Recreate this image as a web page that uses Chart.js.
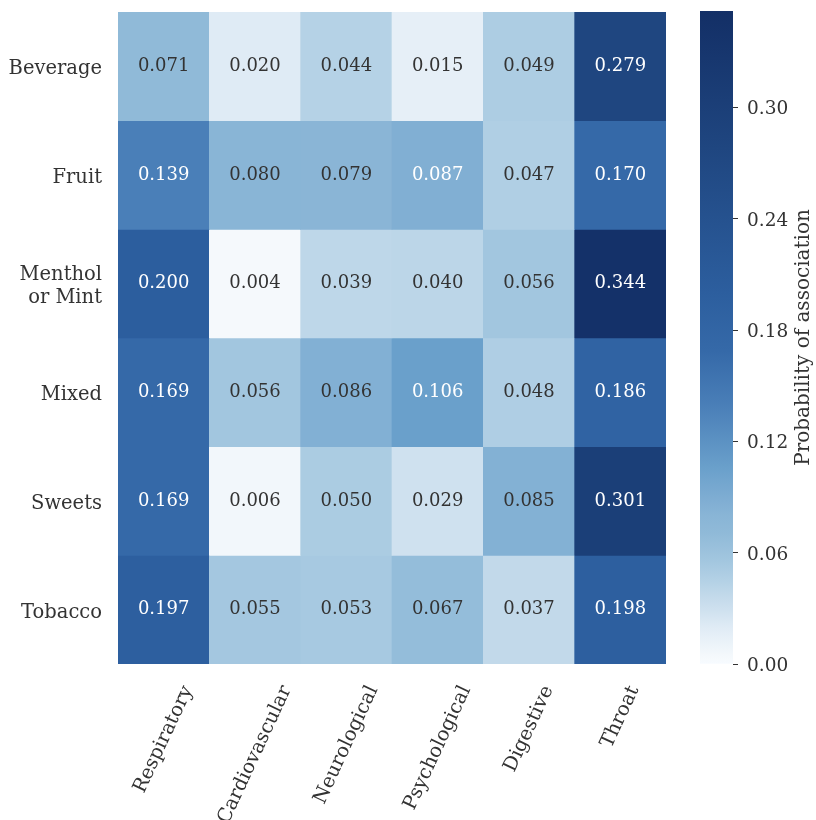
<!DOCTYPE html>
<html>
<head>
<meta charset="utf-8">
<script src="https://cdn.jsdelivr.net/npm/chart.js@4/dist/chart.umd.min.js"></script>
<style>
body{margin:0;background:#fff;}
#wrap{position:relative;width:816px;height:820px;}
#heat{position:absolute;left:0;top:0;}
#bar{position:absolute;left:690px;top:0;}
</style>
</head>
<body>
<div id="wrap">
<canvas id="heat" width="690" height="820"></canvas>
<canvas id="bar" width="126" height="820"></canvas>
</div>
<script>

const rows=["Beverage","Fruit",["Menthol","or Mint"],"Mixed","Sweets","Tobacco"];
const cols=["Respiratory","Cardiovascular","Neurological","Psychological","Digestive","Throat"];

const beverage=[0.071,0.020,0.044,0.015,0.049,0.279];
const fruit=[0.139,0.080,0.079,0.087,0.047,0.170];
const menthol=[0.200,0.004,0.039,0.040,0.056,0.344];
const mixed=[0.169,0.056,0.086,0.106,0.048,0.186];
const sweets=[0.169,0.006,0.050,0.029,0.085,0.301];
const tobacco=[0.197,0.055,0.053,0.067,0.037,0.198];

const cbTicks=[0,0.06,0.12,0.18,0.24,0.30];
const cbMin=0;
const cbMax=0.352;
const cbTitle="Probability of association";

const values=[beverage,fruit,menthol,mixed,sweets,tobacco];

// colour ramp
const stops=[
[0,"#f7fbff"],[0.011,"#f5f9fc"],[0.057,"#dfebf5"],[0.082,"#cfe1ef"],
[0.105,"#c2d9ea"],[0.125,"#b5d2e6"],[0.159,"#a2c6df"],[0.2,"#90bad8"],
[0.227,"#89b5d6"],[0.25,"#80aed3"],[0.3,"#6aa0cb"],[0.395,"#4a7fb8"],
[0.48,"#3569a8"],[0.57,"#2c5e9e"],[0.79,"#1f4680"],[1,"#132f66"]
];

const FONT="'DejaVu Serif', serif";
const INK="#333333";

function hex(h){
return [parseInt(h.slice(1,3),16),parseInt(h.slice(3,5),16),parseInt(h.slice(5,7),16)];
}

function colorFor(v){
let t=(v-cbMin)/(cbMax-cbMin);
t=Math.max(0,Math.min(1,t));
for(let i=1;i<stops.length;i++){
if(t<=stops[i][0]){
const a=stops[i-1],b=stops[i];
const f=(t-a[0])/(b[0]-a[0]);
const ca=hex(a[1]),cb=hex(b[1]);
const c=ca.map((x,k)=>Math.round(x+(cb[k]-x)*f));
return "rgb("+c.join(",")+")";
}
}
return stops[stops.length-1][1];
}

const cellText={
id:"cellText",
afterDatasetsDraw(chart){
const ctx=chart.ctx;
ctx.save();
ctx.font="18px "+FONT;
ctx.textAlign="center";
ctx.textBaseline="middle";
chart.data.datasets.forEach((ds,i)=>{
chart.getDatasetMeta(i).data.forEach((el,j)=>{
const v=values[i][j];
ctx.fillStyle=v>0.0865?"#ffffff":INK;
ctx.fillText(v.toFixed(3),el.x,(el.y+el.base)/2);
});
});
ctx.restore();
}
};

const xLabels={
id:"xLabels",
afterDraw(chart){
const ctx=chart.ctx;
const sc=chart.scales.x;
const ang=65*Math.PI/180;
const h=19;
ctx.save();
ctx.font="19.5px "+FONT;
ctx.fillStyle=INK;
ctx.textAlign="center";
ctx.textBaseline="middle";
cols.forEach((c,i)=>{
const w=ctx.measureText(c).width;
const H=w*Math.sin(ang)+h*Math.cos(ang);
const x=sc.getPixelForValue(i);
const y=chart.chartArea.bottom+19+H/2;
ctx.save();
ctx.translate(x,y);
ctx.rotate(-ang);
ctx.fillText(c,0,0);
ctx.restore();
});
ctx.restore();
}
};

new Chart(document.getElementById("heat"),{

type:"bar",

data:{
labels:cols,
datasets:values.map((r,i)=>({
label:Array.isArray(rows[i])?rows[i].join(" "):rows[i],
data:cols.map(()=>[i,i+1]),
backgroundColor:r.map(colorFor),
borderWidth:0,
grouped:false,
barPercentage:1,
categoryPercentage:1
}))
},

options:{
responsive:false,
animation:false,
layout:{padding:{top:12,right:24,bottom:0,left:0}},
plugins:{legend:{display:false},tooltip:{enabled:false}},
scales:{
x:{
grid:{display:false,drawTicks:false},
border:{display:false},
ticks:{display:false},
afterFit:(s)=>{s.height=156;s.paddingLeft=0;s.paddingRight=0;}
},
y:{
min:0,
max:6,
reverse:true,
grid:{display:false,drawTicks:false},
border:{display:false},
afterBuildTicks:(s)=>{s.ticks=rows.map((r,i)=>({value:i+0.5}));},
ticks:{
padding:16,
labelOffset:3,
color:INK,
font:{family:FONT,size:19.5},
callback:(v)=>rows[Math.round(v-0.5)]
},
afterFit:(s)=>{s.width=118;s.paddingTop=0;s.paddingBottom=0;}
}
}
},

plugins:[cellText,xLabels]

});

const cbLabel={
id:"cbLabel",
afterDraw(chart){
const ctx=chart.ctx;
const a=chart.chartArea;
ctx.save();
ctx.font="20px "+FONT;
ctx.fillStyle=INK;
ctx.textAlign="center";
ctx.textBaseline="middle";
ctx.translate(114,(a.top+a.bottom)/2);
ctx.rotate(-Math.PI/2);
ctx.fillText(cbTitle,0,0);
ctx.restore();
}
};

new Chart(document.getElementById("bar"),{

type:"bar",

data:{
labels:[""],
datasets:[{
data:[[cbMin,cbMax]],
borderWidth:0,
barPercentage:1,
categoryPercentage:1,
backgroundColor:(c)=>{
const a=c.chart.chartArea;
if(!a)return stops[0][1];
const g=c.chart.ctx.createLinearGradient(0,a.bottom,0,a.top);
stops.forEach(s=>g.addColorStop(s[0],s[1]));
return g;
}
}]
},

options:{
responsive:false,
animation:false,
layout:{padding:{top:11,right:0,bottom:156,left:10}},
plugins:{legend:{display:false},tooltip:{enabled:false}},
scales:{
x:{display:false},
y:{
position:"right",
min:cbMin,
max:cbMax,
afterBuildTicks:(s)=>{s.ticks=cbTicks.map(v=>({value:v}));},
grid:{drawOnChartArea:false,drawTicks:true,tickLength:5,color:INK,lineWidth:1},
border:{display:false},
ticks:{
padding:9,
labelOffset:2,
color:INK,
font:{family:FONT,size:18.5},
callback:(v)=>v.toFixed(2)
},
afterFit:(s)=>{s.width=83;s.paddingTop=0;s.paddingBottom=0;}
}
}
},

plugins:[cbLabel]

});

</script>
</body>
</html>
